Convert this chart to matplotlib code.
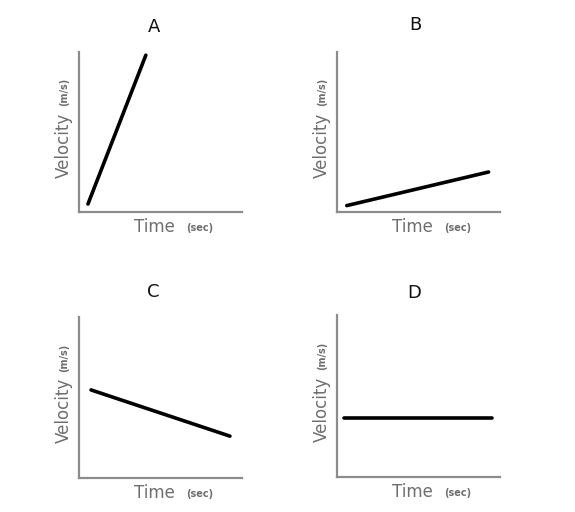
import matplotlib
matplotlib.use("Agg")
import matplotlib.pyplot as plt

# panel titles and line endpoints (axes units 0..1)
titles = ["A", "B", "C", "D"]
x_start = [0.055, 0.06, 0.074, 0.04]
x_end = [0.41, 0.93, 0.926, 0.95]
y_start = [0.05, 0.04, 0.547, 0.364]
y_end = [0.98, 0.25, 0.26, 0.364]

# axes boxes in pixels: left, top, right, bottom
boxes = [(79, 52, 242, 212), (337, 52, 500, 212),
         (79, 317, 242, 478), (337, 315, 500, 477)]
# title centres in pixels
title_pos = [(154, 27), (415, 25), (153, 292), (414, 293)]

W, H = 575, 512
fig = plt.figure(figsize=(W / 100, H / 100), dpi=100)
fig.patch.set_facecolor("white")

axis_gray = "#8c8c8c"
text_gray = "#6e6e6e"

for i in range(4):
    l, t, r, b = boxes[i]
    ax = fig.add_axes([l / W, 1 - b / H, (r - l) / W, (b - t) / H])
    ax.set_xlim(0, 1)
    ax.set_ylim(0, 1)
    ax.plot([x_start[i], x_end[i]], [y_start[i], y_end[i]],
            color="black", lw=2.6, solid_capstyle="round")
    for s in ["top", "right"]:
        ax.spines[s].set_visible(False)
    for s in ["left", "bottom"]:
        ax.spines[s].set_color(axis_gray)
        ax.spines[s].set_linewidth(1.6)
    ax.set_xticks([])
    ax.set_yticks([])
    tx, ty = title_pos[i]
    fig.text(tx / W, 1 - ty / H, titles[i], fontsize=13, color="#111111",
             ha="center", va="center")

    # y label in two sizes
    ax.text(-0.09, 0.62, "Velocity", rotation=90, ha="center", va="top",
            fontsize=12, color=text_gray, transform=ax.transAxes)
    ax.text(-0.09, 0.66, "(m/s)", rotation=90, ha="center", va="bottom",
            fontsize=7, fontweight="bold", color=text_gray, transform=ax.transAxes)
    # x label in two sizes
    ax.text(0.34, -0.095, "Time", ha="left", va="center",
            fontsize=12, color=text_gray, transform=ax.transAxes)
    ax.text(0.655, -0.1, "(sec)", ha="left", va="center",
            fontsize=7, fontweight="bold", color=text_gray, transform=ax.transAxes)

fig.savefig("out.png", dpi=100, facecolor="white")
